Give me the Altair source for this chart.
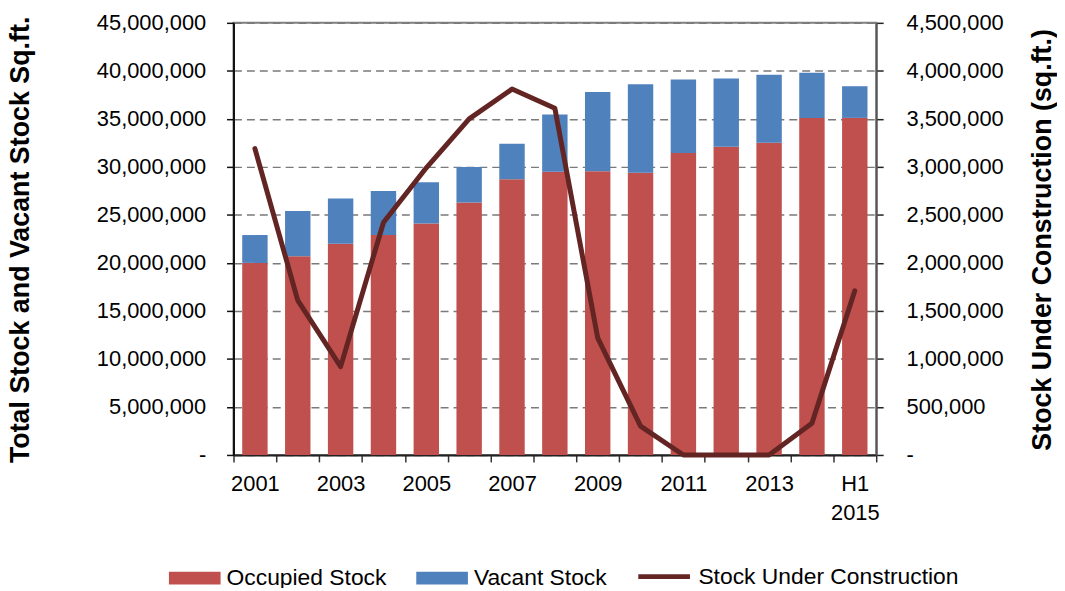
import altair as alt
import pandas as pd

periods = ['2001', '2002', '2003', '2004', '2005', '2006', '2007', '2008',
           '2009', '2010', '2011', '2012', '2013', '2014', 'H1 2015']
labelled_periods = ['2001', '2003', '2005', '2007', '2009', '2011', '2013']

occupied = [20.0e6, 20.7e6, 22.0e6, 22.9e6, 24.1e6, 26.3e6, 28.7e6, 29.5e6,
            29.55e6, 29.4e6, 31.45e6, 32.1e6, 32.5e6, 35.1e6, 35.1e6]
vacant = [2.9e6, 4.7e6, 4.7e6, 4.6e6, 4.3e6, 3.7e6, 3.7e6, 5.95e6,
          8.25e6, 9.2e6, 7.65e6, 7.1e6, 7.1e6, 4.7e6, 3.3e6]
under_construction = [3.19e6, 1.61e6, 0.92e6, 2.42e6, 2.99e6, 3.50e6, 3.81e6, 3.61e6,
                      1.22e6, 0.30e6, 0.0, 0.0, 0.0, 0.33e6, 1.71e6]

bar_series = ['Occupied Stock', 'Vacant Stock']
bar_colors = ['#C0504D', '#4F81BD']
line_series = ['Stock Under Construction']
line_colors = ['#632523']

left_ticks = [0, 5e6, 10e6, 15e6, 20e6, 25e6, 30e6, 35e6, 40e6, 45e6]
right_ticks = [0, 5e5, 1e6, 1.5e6, 2e6, 2.5e6, 3e6, 3.5e6, 4e6, 4.5e6]

left_title = 'Total Stock and Vacant Stock Sq.ft.'
right_title = 'Stock Under Construction (sq.ft.)'

FONT = 'Liberation Sans'

rows = []
for i, p in enumerate(periods):
    rows.append({'period': p, 'series': bar_series[0], 'value': occupied[i], 'k': 0})
    rows.append({'period': p, 'series': bar_series[1], 'value': vacant[i], 'k': 1})
df_bars = pd.DataFrame(rows)
df_line = pd.DataFrame({'period': periods, 'uc': under_construction,
                        'series': line_series * len(periods)})

lab_list = "[" + ",".join("'%s'" % p for p in labelled_periods) + "]"
x_enc = alt.X(
    'period:N', sort=periods,
    scale=alt.Scale(paddingInner=0, paddingOuter=0),
    axis=alt.Axis(
        title=None, labelAngle=0, tickBand='extent', tickSize=7, tickWidth=1.5,
        tickColor='#333333', domainColor='#222222', domainWidth=2,
        labelFont=FONT, labelFontSize=22, labelColor='#000000', labelPadding=12,
        labelLineHeight=29, labelOverlap=False,
        labelExpr="datum.value == 'H1 2015' ? ['H1', '2015'] : (indexof(" + lab_list + ", datum.value) >= 0 ? datum.value : '')",
    ),
)

bar_legend = alt.Legend(
    title=None, orient='none', direction='horizontal', legendX=-65, legendY=533,
    symbolSize=2704, symbolType='M-1,-0.25L1,-0.25L1,0.25L-1,0.25Z', symbolStrokeWidth=0,
    symbolOpacity=1, labelLimit=500, gridAlign='none',
    labelFont=FONT, labelFontSize=23, labelColor='#000000',
    labelOffset=6, columnPadding=29, padding=0,
)
line_legend = alt.Legend(
    title=None, orient='none', direction='horizontal', legendX=405, legendY=529,
    symbolSize=2704, symbolType='stroke', symbolStrokeWidth=5, symbolOpacity=1,
    labelLimit=500,
    labelFont=FONT, labelFontSize=23, labelColor='#000000',
    labelOffset=6, padding=0,
)

bars = alt.Chart(df_bars).mark_bar(width={'band': 0.593}).encode(
    x=x_enc,
    y=alt.Y(
        'value:Q', stack='zero',
        scale=alt.Scale(domain=[0, 45e6], nice=False),
        axis=alt.Axis(
            values=left_ticks, grid=True, gridDash=[8, 5], gridColor='#7a7a7a', gridWidth=1.5,
            domainColor='#111111', domainWidth=2, tickColor='#111111', tickSize=7, tickWidth=1.5,
            labelFont=FONT, labelFontSize=22, labelColor='#000000', labelPadding=21,
            labelExpr="datum.value == 0 ? '-\u00a0\u00a0' : format(datum.value, ',')",
            title=left_title, titleFont=FONT, titleFontSize=27, titleFontWeight='bold',
            titleColor='#000000', titleAngle=270, titleX=-200, titleY=218,
            titleAlign='center', titleBaseline='bottom',
        ),
    ),
    color=alt.Color('series:N', scale=alt.Scale(domain=bar_series, range=bar_colors), legend=bar_legend),
    order=alt.Order('k:Q'),
)

line = alt.Chart(df_line).mark_line(
    strokeWidth=5, strokeCap='round', strokeJoin='round'
).encode(
    x=x_enc,
    y=alt.Y(
        'uc:Q',
        scale=alt.Scale(domain=[0, 4.5e6], nice=False),
        axis=alt.Axis(
            orient='right', values=right_ticks, grid=False,
            domainColor='#555555', domainWidth=2, tickColor='#222222', tickSize=7, tickWidth=1.5,
            labelFont=FONT, labelFontSize=22, labelColor='#000000', labelPadding=23,
            labelExpr="datum.value == 0 ? '-' : format(datum.value, ',')",
            title=right_title, titleFont=FONT, titleFontSize=27, titleFontWeight='bold',
            titleColor='#000000', titleAngle=270, titleX=181, titleY=218,
            titleAlign='center', titleBaseline='bottom',
        ),
    ),
    stroke=alt.Stroke('series:N', scale=alt.Scale(domain=line_series, range=line_colors), legend=line_legend),
)

chart = alt.layer(bars, line).resolve_scale(y='independent').properties(
    width=647, height=435,
    autosize=alt.AutoSizeParams(type='none'),
    padding={'left': 227, 'top': 13, 'right': 182, 'bottom': 132},
).configure_view(stroke='#808080', strokeWidth=2)

chart.save('out.html', embed_options={'renderer': 'svg', 'actions': False})
